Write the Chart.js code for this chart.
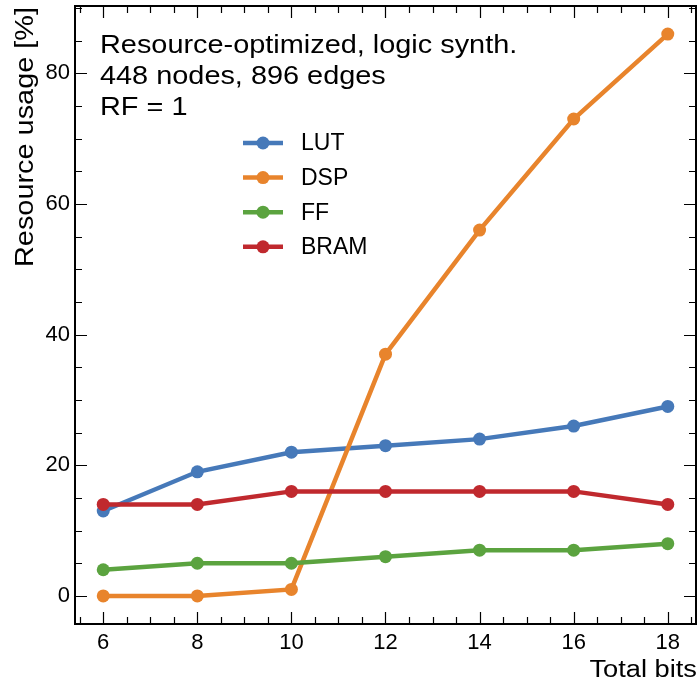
<!DOCTYPE html>
<html>
<head>
<meta charset="utf-8">
<script src="https://cdn.jsdelivr.net/npm/chart.js@4.4.1/dist/chart.umd.min.js"></script>
<style>
  html, body { margin: 0; padding: 0; background: #fff; }
  canvas { display: block; }
</style>
</head>
<body>
<canvas id="usageChart" width="697" height="683"></canvas>
<script>
// data: resource usage [%] vs total bits
const totalBits = [6, 8, 10, 12, 14, 16, 18];
const lutUsage = [13, 19, 22, 23, 24, 26, 29];
const dspUsage = [0, 0, 1, 37, 56, 73, 86];
const ffUsage = [4, 5, 5, 6, 7, 7, 8];
const bramUsage = [14, 14, 16, 16, 16, 16, 14];

const seriesNames = ["LUT", "DSP", "FF", "BRAM"];
const seriesColors = ["#4679b9", "#e8842c", "#5ba33f", "#c0292e"];

const xTickValues = [6, 8, 10, 12, 14, 16, 18];
const yTickValues = [0, 20, 40, 60, 80];
const xTitle = "Total bits";
const yTitle = "Resource usage [%]";
const headerLines = [
  "Resource-optimized, logic synth.",
  "448 nodes, 896 edges",
  "RF = 1",
];

const FONT = "'Liberation Sans', Arial, Helvetica, sans-serif";

// build datasets (BRAM drawn on top, like the original plot order)
const seriesValues = [lutUsage, dspUsage, ffUsage, bramUsage];
const datasets = seriesNames.map((name, i) => ({
  label: name,
  data: totalBits.map((x, j) => ({ x: x, y: seriesValues[i][j] })),
  borderColor: seriesColors[i],
  backgroundColor: seriesColors[i],
  pointBackgroundColor: seriesColors[i],
  pointBorderWidth: 0,
  pointRadius: 6.5,
  borderWidth: 4.5,
  tension: 0,
  order: seriesNames.length - i,
}));

// frame + inward major/minor ticks on all four sides
const frameTicks = {
  id: "frameTicks",
  afterDraw(chart) {
    const { ctx, chartArea: a, scales } = chart;
    const xs = scales.x, ys = scales.y;
    ctx.save();
    ctx.strokeStyle = "#000";
    ctx.lineWidth = 1.2;
    ctx.beginPath();
    const xMinor = [];
    for (let v = 5.5; v <= 18.5; v += 0.5) xMinor.push(v);
    xMinor.forEach((v) => {
      const major = xTickValues.includes(v);
      const len = major ? 12 : 7;
      const px = Math.round(xs.getPixelForValue(v)) + 0.5;
      ctx.moveTo(px, a.bottom); ctx.lineTo(px, a.bottom - len);
      ctx.moveTo(px, a.top); ctx.lineTo(px, a.top + len);
    });
    const yMinor = [];
    for (let v = 0; v <= 90; v += 5) yMinor.push(v);
    yMinor.forEach((v) => {
      const major = yTickValues.includes(v);
      const len = major ? 12 : 7;
      const py = Math.round(ys.getPixelForValue(v)) + 0.5;
      ctx.moveTo(a.left, py); ctx.lineTo(a.left + len, py);
      ctx.moveTo(a.right, py); ctx.lineTo(a.right - len, py);
    });
    ctx.stroke();
    ctx.lineWidth = 2;
    ctx.strokeRect(a.left, a.top, a.right - a.left, a.bottom - a.top);
    ctx.restore();
  },
};

// text drawn with a slightly widened face
function wideText(ctx, text, x, y, angle, sx) {
  ctx.save();
  ctx.translate(x, y);
  ctx.rotate(angle);
  ctx.scale(sx, 1);
  ctx.fillText(text, 0, 0);
  ctx.restore();
}

// axis titles, header text and line+marker legend
const annotations = {
  id: "annotations",
  afterDatasetsDraw(chart) {
    const { ctx, chartArea: a } = chart;
    ctx.save();
    ctx.fillStyle = "#000";
    ctx.textBaseline = "alphabetic";

    // axis titles sit at the far ends of the axes
    ctx.textAlign = "right";
    ctx.font = "23.5px " + FONT;
    wideText(ctx, xTitle, a.right + 1, 677, 0, 1.16);
    ctx.font = "25px " + FONT;
    wideText(ctx, yTitle, 33, a.top + 1, -Math.PI / 2, 1.155);

    ctx.textAlign = "left";
    ctx.font = "25px " + FONT;
    headerLines.forEach((t, i) => wideText(ctx, t, 100, 53 + i * 30.8, 0, 1.155));

    chart.data.datasets.forEach((ds, i) => {
      const y = 143 + i * 34.6;
      ctx.strokeStyle = ds.borderColor;
      ctx.lineWidth = 4.5;
      ctx.beginPath();
      ctx.moveTo(243, y);
      ctx.lineTo(283, y);
      ctx.stroke();
      ctx.fillStyle = ds.borderColor;
      ctx.beginPath();
      ctx.arc(263, y, 6.5, 0, Math.PI * 2);
      ctx.fill();
      ctx.fillStyle = "#000";
      ctx.font = "23px " + FONT;
      ctx.textBaseline = "middle";
      ctx.fillText(ds.label, 301, y + 1);
    });
    ctx.restore();
  },
};

new Chart(document.getElementById("usageChart"), {
  type: "line",
  data: { datasets: datasets },
  options: {
    responsive: false,
    animation: false,
    layout: { autoPadding: false, padding: { left: 0, right: 1, top: 6, bottom: 0 } },
    plugins: {
      legend: { display: false },
      tooltip: { enabled: false },
    },
    scales: {
      x: {
        type: "linear",
        min: 5.4,
        max: 18.6,
        grid: { display: false, drawTicks: false },
        border: { display: false },
        afterBuildTicks: (s) => { s.ticks = xTickValues.map((v) => ({ value: v })); },
        afterFit: (s) => { s.height = 59; s.paddingLeft = 0; s.paddingRight = 0; },
        ticks: {
          color: "#000",
          padding: 6,
          maxRotation: 0,
          font: { family: FONT, size: 22 },
        },
      },
      y: {
        min: -4.3,
        max: 90.3,
        grid: { display: false, drawTicks: false },
        border: { display: false },
        afterBuildTicks: (s) => { s.ticks = yTickValues.map((v) => ({ value: v })); },
        afterFit: (s) => { s.width = 75; s.paddingTop = 0; s.paddingBottom = 0; },
        ticks: {
          color: "#000",
          padding: 5,
          font: { family: FONT, size: 22 },
        },
      },
    },
  },
  plugins: [frameTicks, annotations],
});
</script>
</body>
</html>
